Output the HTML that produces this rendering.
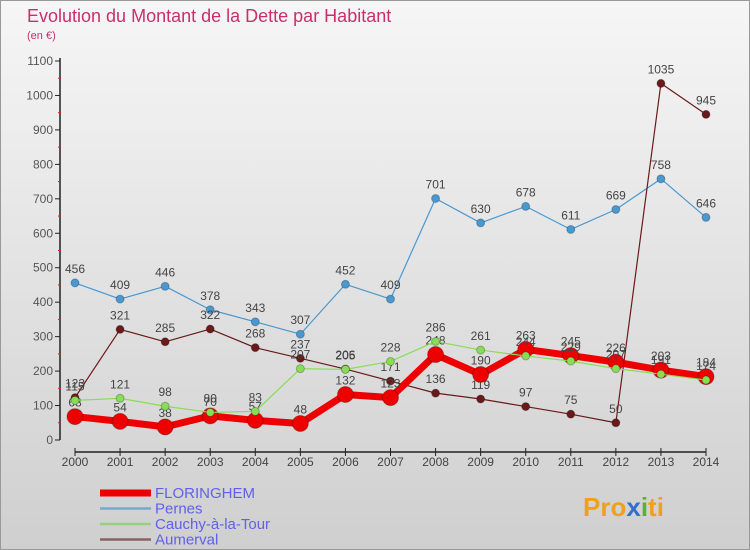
<!DOCTYPE html>
<html><head><meta charset="utf-8"><style>
body{margin:0;width:750px;height:550px;overflow:hidden;font-family:"Liberation Sans",sans-serif}
svg{display:block}
</style></head><body>
<svg id="c" width="750" height="550" xmlns="http://www.w3.org/2000/svg">
<defs><linearGradient id="bg" x1="0" y1="0" x2="0" y2="1"><stop offset="0" stop-color="#f6f6f6"/><stop offset="1" stop-color="#cfcfcf"/></linearGradient></defs>
<rect x="0" y="0" width="750" height="550" fill="url(#bg)"/>
<rect x="0.5" y="0.5" width="749" height="549" fill="none" stroke="#999"/>
<text x="27" y="22" font-size="18" fill="#c8306c">Evolution du Montant de la Dette par Habitant</text>
<text x="27" y="39" font-size="11" fill="#c8306c">(en €)</text>
<g id="axes"></g><g id="series"></g><g id="legend"></g>
<text x="583" y="516" font-size="26" font-weight="bold" fill="#f0a020">Pro<tspan fill="#3070d0">x</tspan><tspan fill="#60b030">i</tspan>ti</text>
</svg>
<script>
const years=[2000,2001,2002,2003,2004,2005,2006,2007,2008,2009,2010,2011,2012,2013,2014];
const yTicks=[0,100,200,300,400,500,600,700,800,900,1000,1100];
const floringhem=[68,54,38,70,57,48,132,123,248,190,263,245,226,203,184];
const pernes=[456,409,446,378,343,307,452,409,701,630,678,611,669,758,646];
const cauchy=[115,121,98,80,83,207,205,228,286,261,244,229,207,191,174];
const aumerval=[123,321,285,322,268,237,206,171,136,119,97,75,50,1035,945];
const NS='http://www.w3.org/2000/svg';
const X=i=>75+i*(706-75)/14, Y=v=>440-v*(379/1100);
function mk(p,t,a){const e=document.createElementNS(NS,t);for(const k in a)e.setAttribute(k,a[k]);p.appendChild(e);return e;}
const ax=document.getElementById('axes');
let l=mk(ax,'line',{x1:60,y1:58,x2:60,y2:440,stroke:'#222','stroke-width':1.5});


l=mk(ax,'line',{x1:75,y1:452,x2:706,y2:452,stroke:'#222','stroke-width':1.5});


yTicks.forEach(v=>{
 mk(ax,'line',{x1:55,y1:Y(v),x2:60,y2:Y(v),stroke:'#222'});
 if(v<1100) mk(ax,'line',{x1:58,y1:Y(v+50),x2:61,y2:Y(v+50),stroke:'#e02020'});
 const t=mk(ax,'text',{x:53,y:Y(v)+4,'font-size':12,fill:'#555','text-anchor':'end'});t.textContent=v;
 
 
});
years.forEach((y,i)=>{
 mk(ax,'line',{x1:X(i),y1:448,x2:X(i),y2:456,stroke:'#222'});
 const t=mk(ax,'text',{x:X(i),y:466,'font-size':12,fill:'#444','text-anchor':'middle'});t.textContent=y;
 
 
});
const S=document.getElementById('series');
function draw(vals,color,w,r,name){
 const g=mk(S,'g',{});
 
 
 const p=mk(g,'polyline',{points:vals.map((v,i)=>X(i)+','+Y(v)).join(' '),fill:'none',stroke:color,'stroke-width':w,'stroke-linejoin':'round'});
 
 
 vals.forEach((v,i)=>{
  const c=mk(g,'circle',{cx:X(i),cy:Y(v),r:r,fill:color,stroke:'rgba(0,0,0,0.25)'});
  
  
  const t=mk(g,'text',{x:X(i),y:Y(v)-10,'font-size':12,fill:'#444','text-anchor':'middle'});t.textContent=v;
  
  
 });
}
draw(pernes,'#4a98d0',1.2,4,'pernes');
draw(aumerval,'#6a1a1a',1.2,4,'aumerval');
draw(floringhem,'#ee0000',7,8,'floringhem');
draw(cauchy,'#88dd55',1.2,4,'cauchy');
const L=document.getElementById('legend');
[['FLORINGHEM','#ee0000',7],['Pernes','#7aa8c8',2.5],['Cauchy-à-la-Tour','#99d080',2.5],['Aumerval','#8a6060',2.5]].forEach((e,i)=>{
 const y=493+i*15.5;
 const g=mk(L,'g',{});
 
 
 mk(g,'line',{x1:100,y1:y,x2:151,y2:y,stroke:e[1],'stroke-width':e[2]});
 const t=mk(g,'text',{x:155,y:y+5,'font-size':15,fill:'#6060e8'});t.textContent=e[0];
});
</script>
</body></html>
